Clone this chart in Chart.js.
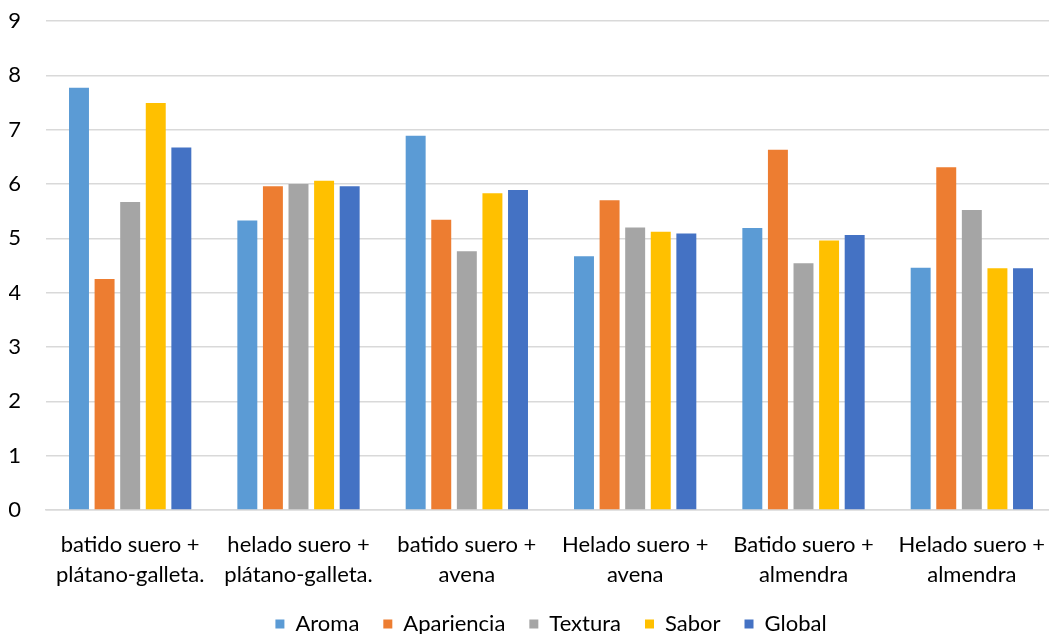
<!DOCTYPE html>
<html>
<head>
<meta charset="utf-8">
<script src="https://cdn.jsdelivr.net/npm/chart.js@4/dist/chart.umd.min.js"></script>
<style>
  html, body { margin: 0; padding: 0; background: #fff; overflow: hidden; }
  #wrap { width: 1056px; height: 634px; }
</style>
</head>
<body>
<div id="wrap"><canvas id="grafico"></canvas></div>
<script>
// categorias (muestras)
const muestras = [
  ['batido suero +', 'plátano-galleta.'],
  ['helado suero +', 'plátano-galleta.'],
  ['batido suero +', 'avena'],
  ['Helado suero +', 'avena'],
  ['Batido suero +', 'almendra'],
  ['Helado suero +', 'almendra']
];

// puntuaciones por atributo
const aroma      = [7.77, 5.33, 6.89, 4.67, 5.19, 4.46];
const apariencia = [4.25, 5.96, 5.34, 5.70, 6.63, 6.31];
const textura    = [5.67, 6.00, 4.76, 5.20, 4.54, 5.52];
const sabor      = [7.49, 6.06, 5.83, 5.12, 4.96, 4.45];
const global     = [6.67, 5.96, 5.89, 5.09, 5.06, 4.45];

const yTicks = [0, 1, 2, 3, 4, 5, 6, 7, 8, 9];

const series = [
  { label: 'Aroma', data: aroma, color: '#5B9BD5' },
  { label: 'Apariencia', data: apariencia, color: '#ED7D31' },
  { label: 'Textura', data: textura, color: '#A5A5A5' },
  { label: 'Sabor', data: sabor, color: '#FFC000' },
  { label: 'Global', data: global, color: '#4472C4' }
];

const fuente = { family: 'Lato, "Open Sans", sans-serif', size: 22, lineHeight: 1.36 };
const fuenteLeyenda = { family: 'Lato, "Open Sans", sans-serif', size: 22 };

// quitar el relleno extra que Chart.js reserva para las etiquetas
function sinRelleno(axis) {
  axis.paddingLeft = 0;
  axis.paddingRight = 0;
  axis.paddingTop = 0;
  axis.paddingBottom = 0;
}

let ctx = document.getElementById('grafico').getContext('2d');
let grafico = new Chart(ctx, {
  type: 'bar',
  data: {
    labels: muestras,
    datasets: series.map(s => ({
      label: s.label,
      data: s.data,
      backgroundColor: s.color,
      borderWidth: 0,
      categoryPercentage: 0.76,
      barPercentage: 0.78
    }))
  },
  options: {
    responsive: true,
    maintainAspectRatio: false,
    animation: false,
    layout: { padding: { left: 9, top: 21, right: 0, bottom: -11 } },
    plugins: {
      tooltip: { enabled: false },
      legend: {
        position: 'bottom',
        fullSize: false,
        labels: {
          font: fuenteLeyenda,
          color: '#000',
          boxWidth: 9,
          boxHeight: 9,
          padding: 24
        }
      }
    },
    scales: {
      x: {
        afterFit: axis => { sinRelleno(axis); axis.height = 79; },
        grid: { display: false, drawTicks: false },
        border: { color: '#d9d9d9', width: 1.5 },
        ticks: { font: fuente, color: '#000', padding: 20, maxRotation: 0, autoSkip: false }
      },
      y: {
        min: 0,
        max: 9,
        afterFit: axis => { sinRelleno(axis); axis.width = 37; },
        afterBuildTicks: axis => { axis.ticks = yTicks.map(v => ({ value: v })); },
        grid: { color: '#d9d9d9', lineWidth: 1.5, drawTicks: false },
        border: { display: false },
        ticks: { font: fuente, color: '#000', padding: 25 }
      }
    }
  }
});
</script>
</body>
</html>
